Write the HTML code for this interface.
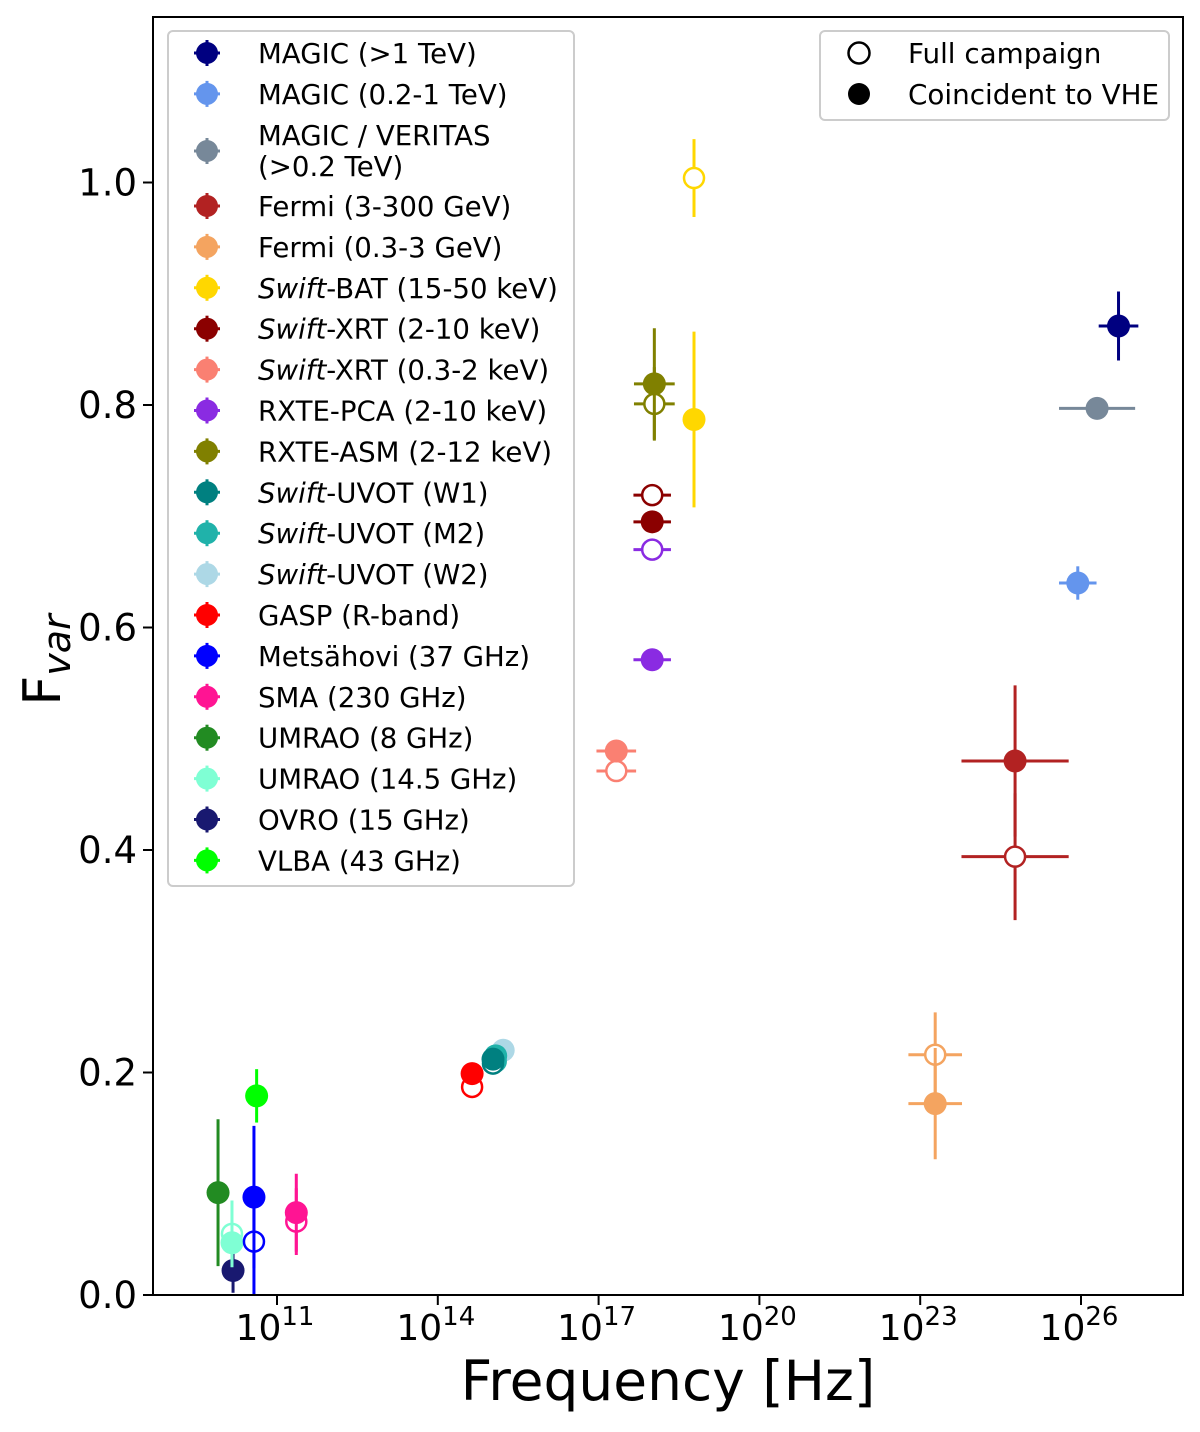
<!DOCTYPE html>
<html><head><meta charset="utf-8"><style>
body{margin:0;background:#fff}
svg text{font-family:"DejaVu Sans","Liberation Sans",sans-serif}
</style></head><body>
<svg id="chart" width="1200" height="1427" viewBox="0 0 1200 1427" xmlns="http://www.w3.org/2000/svg">
<rect x="0" y="0" width="1200" height="1427" fill="#fff"/>
<g id="marks"></g>
<rect x="153" y="17" width="1030" height="1278" fill="none" stroke="#000" stroke-width="2"/>
<g id="axes"></g>
<text transform="translate(60,660) rotate(-90)" font-size="52" text-anchor="middle">F<tspan font-size="38" font-style="italic" dy="10">var</tspan></text>
<text x="668" y="1400" font-size="55" text-anchor="middle">Frequency [Hz]</text>
<g id="legend"></g>
<g>
<rect x="820" y="31" width="349" height="89" rx="5" fill="#fff" stroke="#ccc" stroke-width="2"/>
<circle cx="859" cy="53" r="10.5" fill="#fff" stroke="#000" stroke-width="2.5"/>
<text x="908" y="63" font-size="27.8">Full campaign</text>
<circle cx="859" cy="94" r="11" fill="#000"/>
<text x="908" y="104" font-size="27.8">Coincident to VHE</text>
</g>
</svg>
<script>
const xTickExps=[11,14,17,20,23,26];
const yTicks=[0.0,0.2,0.4,0.6,0.8,1.0];
const yTickLabels=["0.0","0.2","0.4","0.6","0.8","1.0"];
const names=["MAGIC (>1 TeV)","MAGIC (0.2-1 TeV)","MAGIC / VERITAS|(>0.2 TeV)","Fermi (3-300 GeV)","Fermi (0.3-3 GeV)","*Swift*-BAT (15-50 keV)","*Swift*-XRT (2-10 keV)","*Swift*-XRT (0.3-2 keV)","RXTE-PCA (2-10 keV)","RXTE-ASM (2-12 keV)","*Swift*-UVOT (W1)","*Swift*-UVOT (M2)","*Swift*-UVOT (W2)","GASP (R-band)","Metsähovi (37 GHz)","SMA (230 GHz)","UMRAO (8 GHz)","UMRAO (14.5 GHz)","OVRO (15 GHz)","VLBA (43 GHz)"];
const colors=["#000080","#6495ed","#778899","#b22222","#f4a460","#ffd700","#8b0000","#fa8072","#8a2be2","#808000","#008080","#20b2aa","#add8e6","#ff0000","#0000ff","#ff1493","#228b22","#7fffd4","#191970","#00ff00"];
const logFreq=[26.7,25.94,26.3,24.77,23.28,18.78,18.0,17.33,18.0,18.04,15.03,15.08,15.22,14.64,10.57,11.36,9.9,10.16,10.18,10.62];
const xErrDex=[0.37,0.35,0.71,1.0,0.5,0,0.35,0.37,0.35,0.38,0,0,0,0,0,0,0,0,0,0];
const fvarFull=[null,null,null,0.394,0.216,1.004,0.719,0.471,0.670,0.801,0.208,0.210,null,0.187,0.048,0.066,null,0.055,null,null];
const errFull=[0,0,0,0.057,0.038,0.035,0,0,0,0.033,0,0,0,0,0.05,0.03,0,0.03,0,0];
const fvarVHE=[0.871,0.640,0.797,0.480,0.172,0.787,0.695,0.489,0.571,0.819,0.212,0.215,0.220,0.199,0.088,0.074,0.092,0.047,0.022,0.179];
const errVHE=[0.031,0.015,0.01,0.068,0.05,0.079,0,0,0,0.05,0,0,0,0,0.064,0.035,0.066,0.02,0.02,0.024];

const NS="http://www.w3.org/2000/svg";
const X=lf=>277+(lf-11)*53.6;
const Y=v=>1295-v*1112.5;
function mk(tag,attrs,parent){const e=document.createElementNS(NS,tag);for(const k in attrs)e.setAttribute(k,attrs[k]);parent.appendChild(e);return e;}
const axes=document.getElementById('axes');
xTickExps.forEach(ex=>{
  const x=X(ex);
  const t=mk('line',{x1:x,x2:x,y1:1295,y2:1305,stroke:'#000','stroke-width':2},axes);
  
  
  const lb=mk('text',{x:x-2,y:1340,'font-size':36,'text-anchor':'middle'},axes);
  
  
  lb.innerHTML='10<tspan font-size="26" dy="-15">'+ex+'</tspan>';
});
yTicks.forEach((v,i)=>{
  const y=Y(v);
  const t=mk('line',{x1:143,x2:153,y1:y,y2:y,stroke:'#000','stroke-width':2},axes);
  
  
  const lb=mk('text',{x:137,y:y+13,'font-size':37,'text-anchor':'end'},axes);
  
  
  lb.textContent=yTickLabels[i];
});
const marks=document.getElementById('marks');
function point(i,v,err,open){
  const g=mk('g',{},marks);
  
  
  const c=colors[i],x=X(logFreq[i]),y=Y(v);
  if(xErrDex[i]>0)mk('line',{x1:X(logFreq[i]-xErrDex[i]),x2:X(logFreq[i]+xErrDex[i]),y1:y,y2:y,stroke:c,'stroke-width':3},g);
  if(err>0)mk('line',{x1:x,x2:x,y1:Y(Math.max(0,v-err)),y2:Y(v+err),stroke:c,'stroke-width':3},g);
  if(open)mk('circle',{cx:x,cy:y,r:10,fill:'#fff',stroke:c,'stroke-width':2.5},g);
  else mk('circle',{cx:x,cy:y,r:11.5,fill:c},g);
}
for(let i=colors.length-1;i>=0;i--){
  if(fvarFull[i]!==null)point(i,fvarFull[i],errFull[i],true);
  point(i,fvarVHE[i],errVHE[i],false);
}
const leg=document.getElementById('legend');
mk('rect',{x:168,y:31,width:406,height:855,rx:5,fill:'#fff',stroke:'#ccc','stroke-width':2},leg);
let cy=53;
names.forEach((n,i)=>{
  if(i===2)cy=151;else if(i===3)cy=206;else if(i>0)cy+=40.9;
  const g=mk('g',{},leg);
  
  
  const lines=n.split('|');
  mk('line',{x1:194,x2:220,y1:cy,y2:cy,stroke:colors[i],'stroke-width':3},g);
  mk('line',{x1:207,x2:207,y1:cy-13,y2:cy+13,stroke:colors[i],'stroke-width':3},g);
  mk('circle',{cx:207,cy:cy,r:11,fill:colors[i]},g);
  const top=lines.length>1?cy-16:cy;
  lines.forEach((ln,k)=>{
    const t=mk('text',{x:258,y:top+10+k*31,'font-size':27.6},g);
    t.innerHTML=ln.replace(/\*(.*?)\*/g,'<tspan font-style="italic">$1</tspan>');
  });
});
</script>
</body></html>
